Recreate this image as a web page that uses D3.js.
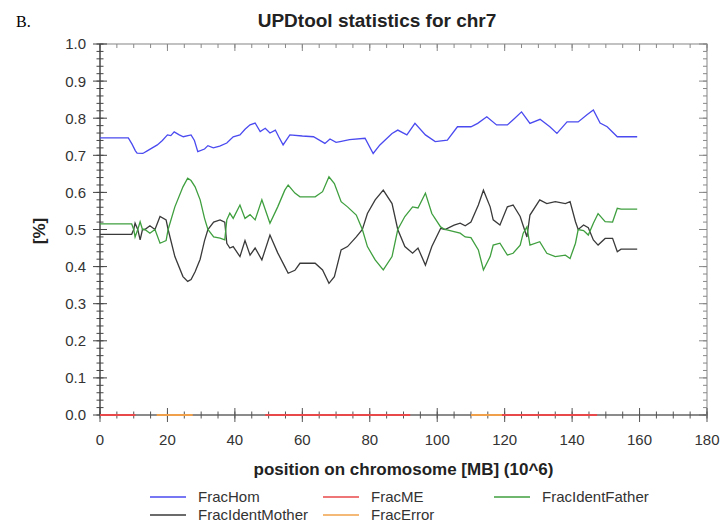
<!DOCTYPE html>
<html>
<head>
<meta charset="utf-8">
<script src="https://cdn.jsdelivr.net/npm/d3@7"></script>
<style>
  body { margin: 0; background: #fff; }
  svg { display: block; font-family: "Liberation Sans", Arial, sans-serif; }
</style>
</head>
<body>
<svg id="chart" width="721" height="523"></svg>
<script>
// Data (position in MB, fraction)
var homPos = [0, 8.4, 9.5, 10.5, 11, 12.7, 14, 15.5, 17, 18.5, 20, 21, 22, 23.5, 24.7, 27, 28, 29, 31, 32, 33.6, 35.5, 37.6, 39.5, 41.5, 43, 44.5, 46, 47.5, 49, 50.4, 52, 53, 54.3, 56.3, 60, 63.3, 66.7, 68.2, 70, 71.2, 74, 78.6, 81, 83, 86.6, 88.3, 91, 93.4, 96.5, 99.4, 103, 106, 110, 112, 114.7, 117.6, 120.8, 123, 125, 127.5, 130.5, 133.4, 135.5, 138.5, 141.8, 144.5, 146.3, 148.3, 150.4, 153.4, 159.3];
var homVal = [.747, .747, .73, .712, .706, .705, .712, .72, .728, .74, .755, .753, .763, .755, .75, .755, .74, .71, .717, .726, .72, .725, .733, .75, .755, .77, .782, .787, .764, .773, .76, .768, .75, .728, .755, .752, .75, .732, .744, .735, .737, .742, .746, .705, .728, .759, .768, .755, .786, .755, .737, .741, .777, .777, .786, .804, .782, .782, .80, .817, .786, .797, .777, .759, .79, .79, .81, .822, .787, .777, .75, .75];

var identPos = [0, 9.4, 10, 10.4, 11.2, 11.9, 12.6, 13.3, 14.8, 16.3, 17.8, 19.6, 20.2, 22.2, 24.6, 26, 27, 28.2, 29.7, 31, 32, 33.7, 35.6, 37, 37.6, 38.5, 39.5, 41.5, 43, 44.5, 46, 48, 50.4, 52.7, 54.8, 55.8, 57.8, 59.3, 63.8, 66, 67.9, 69.5, 71.5, 73.4, 76, 77.8, 79.3, 81.6, 84, 86.6, 88.3, 90.4, 92.7, 94.3, 96.5, 98.4, 101, 102.3, 105, 106.8, 108.3, 110, 112.2, 113.7, 115.7, 116.6, 118.6, 120.8, 122.5, 124.6, 125.5, 126.6, 127.5, 130.4, 132.5, 135, 138, 139.4, 141, 141.8, 143.4, 144.8, 146.3, 147.7, 149.8, 152, 153.4, 154.5, 159.3];
var fatherVal = [.515, .515, .50, .48, .50, .521, .50, .50, .49, .50, .463, .47, .50, .561, .615, .638, .632, .615, .58, .53, .50, .48, .477, .472, .526, .544, .53, .566, .53, .54, .526, .58, .517, .561, .606, .62, .598, .588, .588, .602, .642, .624, .575, .561, .539, .50, .454, .418, .391, .427, .50, .535, .561, .558, .598, .543, .507, .50, .494, .49, .48, .478, .445, .391, .427, .458, .463, .431, .436, .458, .49, .507, .458, .467, .436, .427, .431, .422, .463, .50, .497, .485, .517, .543, .521, .52, .557, .555, .555];
var motherVal = [.487, .487, .50, .517, .50, .472, .50, .50, .51, .50, .535, .526, .50, .427, .373, .36, .365, .386, .42, .47, .50, .52, .526, .52, .463, .45, .454, .427, .47, .431, .45, .418, .485, .437, .40, .382, .39, .409, .409, .391, .355, .373, .445, .454, .48, .50, .543, .58, .606, .57, .50, .454, .436, .45, .404, .454, .503, .50, .512, .517, .51, .52, .566, .606, .561, .526, .512, .561, .566, .535, .51, .48, .539, .58, .57, .575, .57, .575, .521, .50, .512, .505, .472, .458, .476, .476, .44, .447, .447];

// FracME / FracError stay at 0 over these stretches
var meSegments = [[0, 10.5], [49, 92], [119.2, 147.4]];
var errorSegments = [[16.8, 27.5], [110, 119.2]];

var xTicks = [0, 20, 40, 60, 80, 100, 120, 140, 160, 180];
var yTicks = [0, 0.1, 0.2, 0.3, 0.4, 0.5, 0.6, 0.7, 0.8, 0.9, 1.0];

var legendItems = [
  { name: "FracHom", color: "#4a4af0" },
  { name: "FracME", color: "#e8484a" },
  { name: "FracIdentFather", color: "#3f9f3f" },
  { name: "FracIdentMother", color: "#3a3a3a" },
  { name: "FracError", color: "#f0a04a" }
];
var colors = {};
legendItems.forEach(function(d) { colors[d.name] = d.color; });

// Layout
var plot = { left: 100, right: 707, top: 44, bottom: 415 };
var svg = d3.select("#chart");

var x = d3.scaleLinear().domain([0, 180]).range([plot.left, plot.right]);
var y = d3.scaleLinear().domain([0, 1]).range([plot.bottom, plot.top]);

var xMinor = d3.range(0, 181, 5);
var yMinor = d3.range(0, 51).map(function(i) { return i * 0.02; });

// Frame (top and right in gray)
svg.append("rect")
  .attr("x", plot.left)
  .attr("y", plot.top)
  .attr("width", plot.right - plot.left)
  .attr("height", plot.bottom - plot.top)
  .style("fill", "none")
  .style("stroke", "#999")
  .style("stroke-width", 1.2);

// Tick helper: draws one set of tick lines
function ticks(vals, fn, cls, color) {
  svg.append("g").attr("class", cls)
    .selectAll("line")
    .data(vals)
    .enter().append("line")
      .each(fn)
      .style("stroke", color)
      .style("stroke-width", 1);
}

// Bottom axis, ticks crossing the line
ticks(xMinor, function(d) {
  d3.select(this).attr("x1", x(d)).attr("x2", x(d)).attr("y1", plot.bottom - 3.5).attr("y2", plot.bottom + 3.5);
}, "x-minor", "#555");
ticks(xTicks, function(d) {
  d3.select(this).attr("x1", x(d)).attr("x2", x(d)).attr("y1", plot.bottom - 7).attr("y2", plot.bottom + 7);
}, "x-major", "#555");
// Top axis, ticks pointing in
ticks(xMinor, function(d) {
  d3.select(this).attr("x1", x(d)).attr("x2", x(d)).attr("y1", plot.top).attr("y2", plot.top + 4);
}, "x-top-minor", "#888");
ticks(xTicks, function(d) {
  d3.select(this).attr("x1", x(d)).attr("x2", x(d)).attr("y1", plot.top).attr("y2", plot.top + 7);
}, "x-top-major", "#888");

// Left axis, ticks crossing
ticks(yMinor, function(d) {
  d3.select(this).attr("x1", plot.left - 3.5).attr("x2", plot.left + 3.5).attr("y1", y(d)).attr("y2", y(d));
}, "y-minor", "#444");
ticks(yTicks, function(d) {
  d3.select(this).attr("x1", plot.left - 7).attr("x2", plot.left + 7).attr("y1", y(d)).attr("y2", y(d));
}, "y-major", "#444");
// Right axis, ticks pointing in
ticks(yMinor, function(d) {
  d3.select(this).attr("x1", plot.right - 4).attr("x2", plot.right).attr("y1", y(d)).attr("y2", y(d));
}, "y-right-minor", "#888");
ticks(yTicks, function(d) {
  d3.select(this).attr("x1", plot.right - 8).attr("x2", plot.right).attr("y1", y(d)).attr("y2", y(d));
}, "y-right-major", "#888");

// Left and bottom axis lines
svg.append("line")
  .attr("x1", plot.left).attr("x2", plot.left)
  .attr("y1", plot.top).attr("y2", plot.bottom)
  .style("stroke", "#444").style("stroke-width", 1.2);
svg.append("line")
  .attr("x1", plot.left).attr("x2", plot.right)
  .attr("y1", plot.bottom).attr("y2", plot.bottom)
  .style("stroke", "#555").style("stroke-width", 1.2);

// Tick labels
svg.append("g").selectAll("text")
  .data(xTicks)
  .enter().append("text")
    .attr("x", function(d) { return x(d); })
    .attr("y", plot.bottom + 30)
    .style("text-anchor", "middle")
    .style("font-size", "15px")
    .style("fill", "#333")
    .text(function(d) { return d; });

svg.append("g").selectAll("text")
  .data(yTicks)
  .enter().append("text")
    .attr("x", plot.left - 14)
    .attr("y", function(d) { return y(d); })
    .attr("dy", "0.36em")
    .style("text-anchor", "end")
    .style("font-size", "15px")
    .style("fill", "#333")
    .text(function(d) { return d3.format(".1f")(d); });

// Titles
svg.append("text")
  .attr("x", 16)
  .attr("y", 27)
  .style("font-family", "'Liberation Serif', 'Times New Roman', serif")
  .style("font-size", "16px")
  .style("fill", "#000")
  .text("B.");

svg.append("text")
  .attr("x", 377)
  .attr("y", 27)
  .style("text-anchor", "middle")
  .style("font-size", "19px")
  .style("font-weight", "bold")
  .style("fill", "#222")
  .text("UPDtool statistics for chr7");

svg.append("text")
  .attr("x", (plot.left + plot.right) / 2)
  .attr("y", 475)
  .style("text-anchor", "middle")
  .style("font-size", "17px")
  .style("font-weight", "bold")
  .style("fill", "#222")
  .text("position on chromosome [MB] (10^6)");

svg.append("text")
  .attr("transform", "translate(45,231) rotate(-90)")
  .style("text-anchor", "middle")
  .style("font-size", "17px")
  .style("font-weight", "bold")
  .style("fill", "#222")
  .text("[%]");

// Series lines
var line = d3.line()
  .x(function(d) { return x(d[0]); })
  .y(function(d) { return y(d[1]); });

function zip(a, b) {
  return a.map(function(v, i) { return [v, b[i]]; });
}

var series = [
  { name: "FracIdentMother", pts: zip(identPos, motherVal) },
  { name: "FracIdentFather", pts: zip(identPos, fatherVal) },
  { name: "FracHom", pts: zip(homPos, homVal) }
];
meSegments.forEach(function(s) {
  series.push({ name: "FracME", pts: [[s[0], 0], [s[1], 0]] });
});
errorSegments.forEach(function(s) {
  series.push({ name: "FracError", pts: [[s[0], 0], [s[1], 0]] });
});

svg.append("g").attr("class", "series")
  .selectAll("path")
  .data(series)
  .enter().append("path")
    .attr("d", function(d) { return line(d.pts); })
    .style("fill", "none")
    .style("stroke", function(d) { return colors[d.name]; })
    .style("stroke-width", function(d) { return d.pts.length > 2 ? 1.3 : 2; });

// Legend
var legendPos = [[150, 497], [323, 497], [494, 497], [150, 515], [323, 515]];
var legend = svg.append("g").attr("class", "legend")
  .selectAll("g")
  .data(legendItems)
  .enter().append("g")
    .attr("transform", function(d, i) { return "translate(" + legendPos[i][0] + "," + legendPos[i][1] + ")"; });

legend.append("line")
  .attr("x1", 0).attr("x2", 36)
  .attr("y1", 0).attr("y2", 0)
  .style("stroke", function(d) { return d.color; })
  .style("stroke-width", 1.5);

legend.append("text")
  .attr("x", 48)
  .attr("y", 0)
  .attr("dy", "0.35em")
  .style("font-size", "15px")
  .style("fill", "#333")
  .text(function(d) { return d.name; });
</script>
</body>
</html>
